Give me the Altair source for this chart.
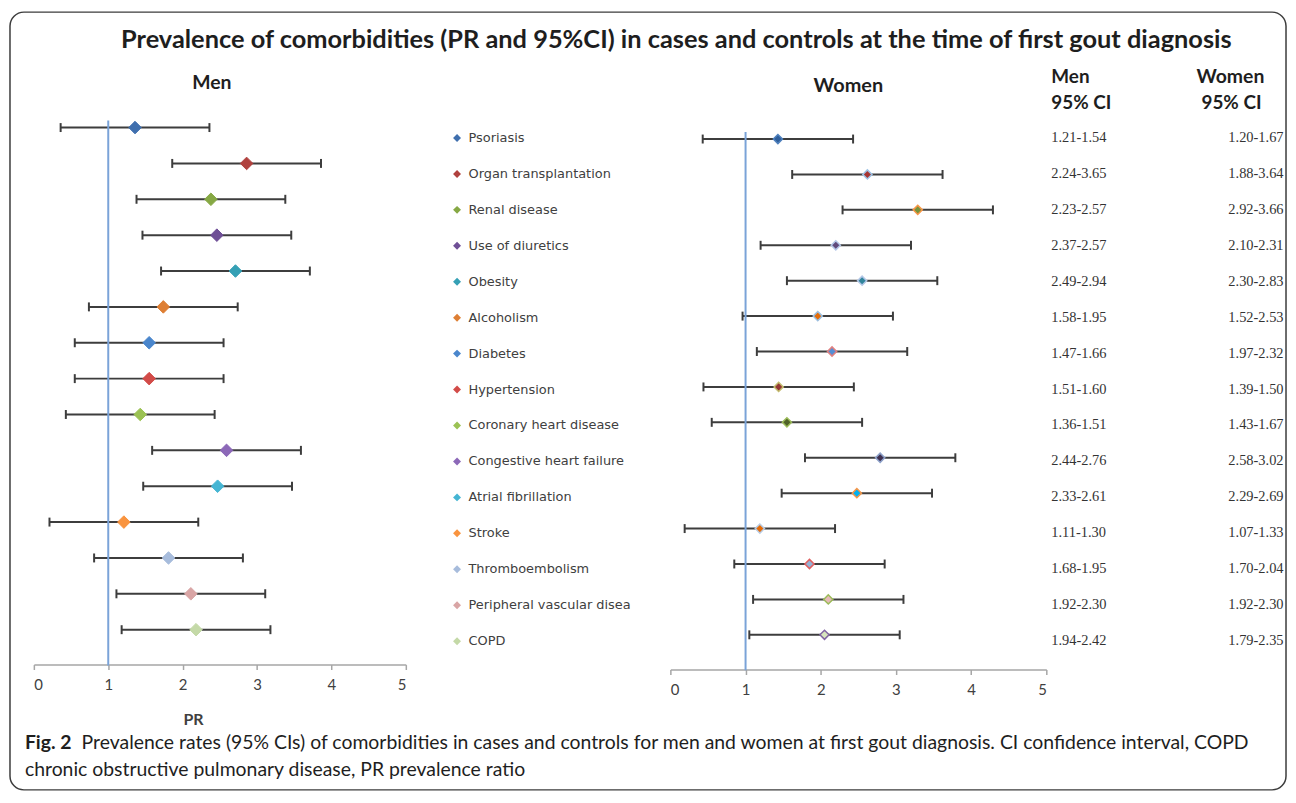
import altair as alt
import pandas as pd

# ---------------- data ----------------
CATEGORIES = [
    "Psoriasis", "Organ transplantation", "Renal disease", "Use of diuretics",
    "Obesity", "Alcoholism", "Diabetes", "Hypertension", "Coronary heart disease",
    "Congestive heart failure", "Atrial fibrillation", "Stroke", "Thromboembolism",
    "Peripheral vascular disea", "COPD",
]
MEN_PR = [1.36, 2.86, 2.38, 2.46, 2.71, 1.74, 1.55, 1.55, 1.43, 2.59, 2.47, 1.21, 1.81, 2.11, 2.18]
WOMEN_PR = [1.43, 2.62, 3.29, 2.20, 2.55, 1.96, 2.15, 1.44, 1.55, 2.79, 2.48, 1.19, 1.85, 2.10, 2.05]
MEN_CI = ["1.21-1.54", "2.24-3.65", "2.23-2.57", "2.37-2.57", "2.49-2.94", "1.58-1.95",
          "1.47-1.66", "1.51-1.60", "1.36-1.51", "2.44-2.76", "2.33-2.61", "1.11-1.30",
          "1.68-1.95", "1.92-2.30", "1.94-2.42"]
WOMEN_CI = ["1.20-1.67", "1.88-3.64", "2.92-3.66", "2.10-2.31", "2.30-2.83", "1.52-2.53",
            "1.97-2.32", "1.39-1.50", "1.43-1.67", "2.58-3.02", "2.29-2.69", "1.07-1.33",
            "1.70-2.04", "1.92-2.30", "1.79-2.35"]
ERROR_BAR = 1.0          # fixed-value error bars of the original chart
REF_PR = 1               # vertical reference line at PR = 1
X_TICKS = [0, 1, 2, 3, 4, 5]

# ---------------- styles ----------------
MEN_COLORS = ["#3f6fae", "#b0413e", "#86a844", "#6f4f96", "#35a0b5", "#de7f34", "#4a86cc",
              "#d24b48", "#9bc254", "#8c68b8", "#45b5d3", "#f9943f", "#a7bcdc", "#d9a5a5", "#c4d9a7"]
WOMEN_FILL = ["#2f5f9c", "#a53533", "#77933c", "#604a7b", "#31859c", "#e46c0a", "#558ed5",
              "#953735", "#4f6228", "#3f3151", "#00b0f0", "#e46c0a", "#95b3d7", "#e6b9b8", "#d7e4bd"]
WOMEN_STROKE = ["#4f81bd", "#9dc3e6", "#f79646", "#b4c7e7", "#b4c7e7", "#9cbfe0", "#e08080",
                "#c4bd70", "#9bbb59", "#8ca0c8", "#f79646", "#b8cce4", "#e06060", "#9bbb59", "#8064a2"]
BAR_COLOR = "#3d3d3d"
REF_COLOR = "#7aa3d8"
AXIS_COLOR = "#a6a6a6"
TXT = "#1e1e1e"

df = pd.DataFrame({
    "category": CATEGORIES,
    "row": list(range(len(CATEGORIES), 0, -1)),
    "men_pr": MEN_PR,
    "women_pr": WOMEN_PR,
    "men_ci": MEN_CI,
    "women_ci": WOMEN_CI,
})

base = alt.Chart(df)


def panel(prcol, xrange, yrange, offset, title, fills, strokes, size, sw, title_x):
    xs = alt.Scale(domain=[0, 5], range=xrange, nice=False, zero=False)
    ys = alt.Scale(domain=[0, 16], range=yrange, nice=False, zero=False)
    ax_kw = dict(values=X_TICKS, orient="bottom", offset=offset, grid=False,
                 domainColor=AXIS_COLOR, domainWidth=1.5, tickColor=AXIS_COLOR,
                 tickWidth=1.5, tickSize=5, labelFont="Lato", labelFontSize=15,
                 labelColor="#404040", labelPadding=8, format="d")
    if title:
        ax = alt.Axis(title=title, titleFont="Lato", titleFontSize=16, titleFontWeight="bold",
                      titleColor="#404040", titleX=title_x, titleY=55, titleBaseline="middle",
                      **ax_kw)
    else:
        ax = alt.Axis(title=None, **ax_kw)
    y = alt.Y("row:Q", scale=ys, axis=None)
    b = base.transform_calculate(lo=f"datum.{prcol} - {ERROR_BAR}",
                                 hi=f"datum.{prcol} + {ERROR_BAR}")
    bars = b.mark_rule(color=BAR_COLOR, strokeWidth=2).encode(
        x=alt.X("lo:Q", scale=xs, axis=ax), x2="hi:Q", y=y)
    caps = b.transform_fold(["lo", "hi"], as_=["end", "val"]).mark_tick(
        orient="vertical", size=9, thickness=2, color=BAR_COLOR, opacity=1).encode(
        x=alt.X("val:Q", scale=xs, axis=ax), y=y)
    ref = alt.Chart(pd.DataFrame({"ref": [REF_PR], "y0": [0], "y1": [15.2]})).mark_rule(
        color=REF_COLOR, strokeWidth=2).encode(
        x=alt.X("ref:Q", scale=xs, axis=ax), y=alt.Y("y0:Q", scale=ys, axis=None), y2="y1:Q")
    pts = b.mark_point(shape="diamond", filled=True, size=size, opacity=1, strokeWidth=sw).encode(
        x=alt.X(f"{prcol}:Q", scale=xs, axis=ax), y=y,
        fill=alt.Fill("category:N", scale=alt.Scale(domain=CATEGORIES, range=fills), legend=None),
        stroke=alt.Stroke("category:N", scale=alt.Scale(domain=CATEGORIES, range=strokes), legend=None),
    )
    return alt.layer(bars, caps, ref, pts)


men = panel("men_pr", [24, 398], [657, 80], -126, "PR", MEN_COLORS, MEN_COLORS, 160, 1, 184)
women = panel("women_pr", [664, 1042], [661.7, 92], -121, None, WOMEN_FILL, WOMEN_STROKE, 85, 1.5, 0)

# legend + CI table
ys_tab = alt.Scale(domain=[0, 16], range=[668.6, 90.4], nice=False, zero=False)
ytab = alt.Y("row:Q", scale=ys_tab, axis=None)
leg_pts = base.mark_point(shape="diamond", filled=True, size=64, opacity=1).encode(
    x=alt.value(449.5), y=ytab,
    fill=alt.Fill("category:N", scale=alt.Scale(domain=CATEGORIES, range=MEN_COLORS), legend=None))
leg_txt = base.mark_text(align="left", baseline="middle", font="DejaVu Sans", fontSize=13,
                         color="#404040").encode(x=alt.value(461), y=ytab, text="category:N")
men_ci = base.mark_text(align="left", baseline="middle", font="Liberation Serif", fontSize=14.5,
                        color="#333333").encode(x=alt.value(1047), y=ytab, text="men_ci:N")
women_ci = base.mark_text(align="left", baseline="middle", font="Liberation Serif", fontSize=14.5,
                          color="#333333").encode(x=alt.value(1225), y=ytab, text="women_ci:N")
table = alt.layer(leg_pts, leg_txt, men_ci, women_ci)


def label(text, x, y, size, weight="normal", align="left", font="Lato", color=TXT):
    return alt.Chart(pd.DataFrame({"t": [text]})).mark_text(
        align=align, baseline="middle", font=font, fontSize=size, fontWeight=weight,
        color=color).encode(text="t:N", x=alt.value(x), y=alt.value(y))


texts = [
    label("Prevalence of comorbidities (PR and 95%CI) in cases and controls at the time of first gout diagnosis",
          670, 28, 25.5, "bold", "center"),
    label("Men", 203, 71, 19.5, "bold", "center"),
    label("Women", 843, 74, 20, "bold", "center"),
    label("Men", 1047, 65, 19, "bold"),
    label("95% CI", 1047, 91, 19, "bold"),
    label("Women", 1193, 65, 19.5, "bold"),
    label("95% CI", 1198, 91, 19, "bold"),
    label("Fig. 2", 15, 735, 19.5, "bold"),
    label("Prevalence rates (95% CIs) of comorbidities in cases and controls for men and women at "
          "first gout diagnosis. CI confidence interval, COPD", 72, 735, 19.5),
    label("chronic obstructive pulmonary disease, PR prevalence ratio", 15, 762, 19.5),
]

chart = alt.layer(men, women, table, *texts).resolve_scale(
    x="independent", y="independent", fill="independent", stroke="independent"
).properties(
    width=1283, height=782, padding=2, background="white",
    autosize=alt.AutoSizeParams(type="none"),
).configure_view(stroke="#3c3c3c", strokeWidth=1.5, cornerRadius=14)

chart.save("out.html", embed_options={"renderer": "svg", "actions": False})
